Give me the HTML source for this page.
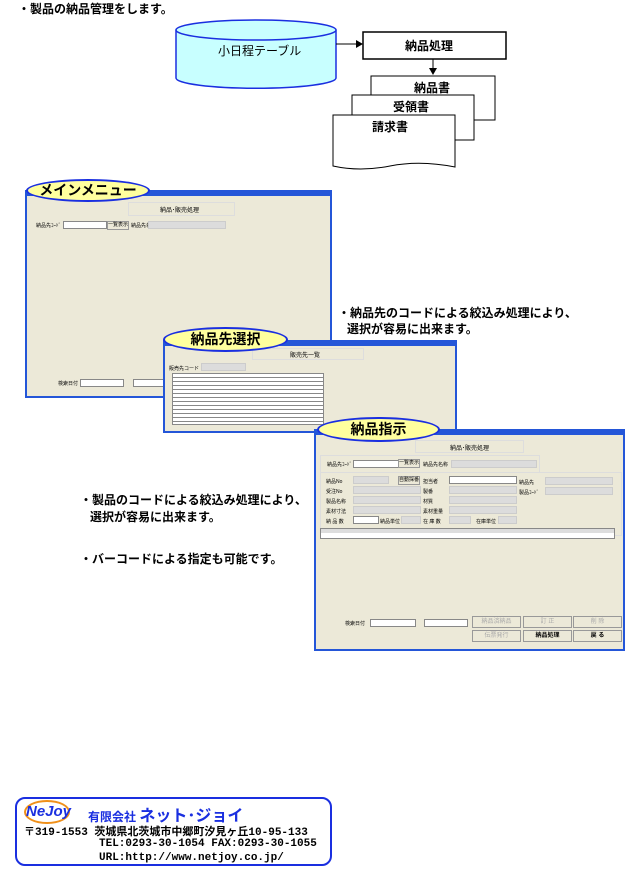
<!DOCTYPE html>
<html><head><meta charset="utf-8"><style>
body{margin:0;width:640px;height:870px;background:#fff;position:relative;overflow:hidden;font-family:"Liberation Sans","Noto Sans CJK JP",sans-serif;}
.a{position:absolute}
.t{font-size:12px;color:#000;white-space:nowrap;font-weight:bold}
.win{position:absolute;background:#ece9d8;border:2px solid #2456d8;border-top:6px solid #2456d8;box-sizing:border-box}
.lbl{position:absolute;background:#ffff9e;border:2px solid #1a2fe0;border-radius:50%;box-sizing:border-box;text-align:center;font-weight:bold;font-size:14px}
.fld{position:absolute;background:#dcdcdc;border:1px solid #ccc}
.wf{position:absolute;background:#fff;border:1px solid #888}
.s{position:absolute;font-size:5px;white-space:nowrap}
.btn{position:absolute;background:#ece9d8;border:1px solid #999;font-size:6px;text-align:center;line-height:12px}
</style></head><body>
<div class="a t" style="left:18px;top:0px;font-size:12px">・製品の納品管理をします。</div>
<svg class="a" style="left:0;top:0" width="640" height="180">
<path d="M176 30 L176 78 A78 10 0 0 0 336 78 L336 30" fill="#c8ffff" stroke="#1a2fe0" stroke-width="1.5"/>
<ellipse cx="256" cy="30" rx="80" ry="10" fill="#c8ffff" stroke="#1a2fe0" stroke-width="1.5"/>
<text x="218" y="55" font-size="12" font-family="Liberation Sans,Noto Sans CJK JP,sans-serif">小日程テーブル</text>
<line x1="336" y1="44" x2="360" y2="44" stroke="#000"/><polygon points="363,44 356,40 356,48"/>
<rect x="363" y="32" width="143" height="27" fill="#fff" stroke="#000" stroke-width="1.5"/>
<text x="405" y="50" font-size="12" font-weight="bold" font-family="Liberation Sans,Noto Sans CJK JP,sans-serif">納品処理</text>
<line x1="433" y1="59" x2="433" y2="70" stroke="#000"/><polygon points="433,75 429,68 437,68"/>
<rect x="371" y="76" width="124" height="44" fill="#fff" stroke="#000"/>
<text x="414" y="92" font-size="12" font-weight="bold" font-family="Liberation Sans,Noto Sans CJK JP,sans-serif">納品書</text>
<rect x="352" y="95" width="122" height="45" fill="#fff" stroke="#000"/>
<text x="393" y="111" font-size="12" font-weight="bold" font-family="Liberation Sans,Noto Sans CJK JP,sans-serif">受領書</text>
<path d="M333 115 L455 115 L455 167 Q420 160 390 166 Q360 172 333 166 Z" fill="#fff" stroke="#000"/>
<text x="372" y="131" font-size="12" font-weight="bold" font-family="Liberation Sans,Noto Sans CJK JP,sans-serif">請求書</text>
</svg>

<!-- main window -->
<div class="win" style="left:25px;top:190px;width:307px;height:208px"></div>
<div class="a" style="left:128px;top:202px;width:105px;height:12px;border:1px solid #ddd"></div>
<div class="s" style="left:160px;top:205px;font-size:6px">納品･販売処理</div>
<div class="s" style="left:36px;top:222px">納品先ｺｰﾄﾞ</div>
<div class="wf" style="left:63px;top:221px;width:42px;height:6px"></div>
<div class="btn" style="left:107px;top:221px;width:20px;height:7px;line-height:7px;font-size:5px">一覧表示</div>
<div class="s" style="left:131px;top:222px">納品先名称</div>
<div class="fld" style="left:148px;top:221px;width:76px;height:6px"></div>
<div class="s" style="left:58px;top:380px">検索日付</div>
<div class="wf" style="left:80px;top:379px;width:42px;height:6px"></div>
<div class="wf" style="left:133px;top:379px;width:30px;height:6px"></div>
<div class="lbl" style="left:26px;top:179px;width:124px;height:23px;line-height:19px">メインメニュー</div>

<!-- second -->
<div class="win" style="left:163px;top:340px;width:294px;height:93px"></div>
<div class="a" style="left:252px;top:348px;width:110px;height:10px;border:1px solid #ddd"></div>
<div class="s" style="left:290px;top:350px;font-size:6px">販売先一覧</div>
<div class="s" style="left:169px;top:365px">販売先コード</div>
<div class="fld" style="left:201px;top:363px;width:43px;height:6px"></div>
<div class="a" style="left:172px;top:373px;width:150px;height:50px;background:repeating-linear-gradient(#fff 0 3px,#888 3px 4px);border:1px solid #888"></div>
<div class="lbl" style="left:163px;top:327px;width:125px;height:25px;line-height:21px">納品先選択</div>

<div class="a t" style="left:338px;top:304px">・納品先のコードによる絞込み処理により、</div>
<div class="a t" style="left:347px;top:320px">選択が容易に出来ます。</div>

<!-- third -->
<div class="win" style="left:314px;top:429px;width:311px;height:222px"></div>
<div class="a" style="left:415px;top:440px;width:107px;height:11px;border:1px solid #ddd"></div>
<div class="s" style="left:450px;top:443px;font-size:6px">納品･販売処理</div>
<div class="a" style="left:320px;top:455px;width:218px;height:16px;border:1px solid #ddd"></div>
<div class="s" style="left:327px;top:461px">納品先ｺｰﾄﾞ</div>
<div class="wf" style="left:353px;top:460px;width:44px;height:6px"></div>
<div class="btn" style="left:398px;top:459px;width:20px;height:7px;line-height:7px;font-size:5px">一覧表示</div>
<div class="s" style="left:423px;top:461px">納品先名称</div>
<div class="fld" style="left:451px;top:460px;width:84px;height:6px"></div>
<div class="a" style="left:320px;top:472px;width:300px;height:62px;border:1px solid #ddd"></div>
<div class="s" style="left:326px;top:478px">納品No</div><div class="fld" style="left:353px;top:476px;width:34px;height:6px"></div>
<div class="btn" style="left:398px;top:476px;width:20px;height:7px;line-height:7px;font-size:5px">自動採番</div>
<div class="s" style="left:326px;top:488px">受注No</div><div class="fld" style="left:353px;top:486px;width:66px;height:6px"></div>
<div class="s" style="left:326px;top:498px">製品名称</div><div class="fld" style="left:353px;top:496px;width:66px;height:6px"></div>
<div class="s" style="left:326px;top:508px">素材寸法</div><div class="fld" style="left:353px;top:506px;width:66px;height:6px"></div>
<div class="s" style="left:326px;top:518px">納 品 数</div><div class="wf" style="left:353px;top:516px;width:24px;height:6px"></div>
<div class="s" style="left:380px;top:518px">納品単位</div><div class="fld" style="left:401px;top:516px;width:18px;height:6px"></div>
<div class="s" style="left:423px;top:478px">担当者</div><div class="wf" style="left:449px;top:476px;width:66px;height:6px"></div>
<div class="s" style="left:423px;top:488px">製番</div><div class="fld" style="left:449px;top:486px;width:66px;height:6px"></div>
<div class="s" style="left:423px;top:498px">材質</div><div class="fld" style="left:449px;top:496px;width:66px;height:6px"></div>
<div class="s" style="left:423px;top:508px">素材重量</div><div class="fld" style="left:449px;top:506px;width:66px;height:6px"></div>
<div class="s" style="left:423px;top:518px">在 庫 数</div><div class="fld" style="left:449px;top:516px;width:20px;height:6px"></div>
<div class="s" style="left:476px;top:518px">在庫単位</div><div class="fld" style="left:498px;top:516px;width:17px;height:6px"></div>
<div class="s" style="left:519px;top:479px">納品先</div><div class="fld" style="left:545px;top:477px;width:66px;height:6px"></div>
<div class="s" style="left:519px;top:489px">製品ｺｰﾄﾞ</div><div class="fld" style="left:545px;top:487px;width:66px;height:6px"></div>
<div class="a" style="left:320px;top:528px;width:293px;height:9px;background:linear-gradient(#ddd 0 4px,#fff 4px);border:1px solid #888"></div>
<div class="s" style="left:345px;top:620px">検索日付</div>
<div class="wf" style="left:370px;top:619px;width:44px;height:6px"></div>
<div class="wf" style="left:424px;top:619px;width:42px;height:6px"></div>
<div class="btn" style="left:472px;top:616px;width:47px;height:10px;line-height:10px;color:#aaa">納品済納品</div>
<div class="btn" style="left:523px;top:616px;width:47px;height:10px;line-height:10px;color:#aaa">訂 正</div>
<div class="btn" style="left:573px;top:616px;width:47px;height:10px;line-height:10px;color:#aaa">削 除</div>
<div class="btn" style="left:472px;top:630px;width:47px;height:10px;line-height:10px;color:#aaa">伝票発行</div>
<div class="btn" style="left:523px;top:630px;width:47px;height:10px;line-height:10px;font-weight:bold">納品処理</div>
<div class="btn" style="left:573px;top:630px;width:47px;height:10px;line-height:10px;font-weight:bold">戻 る</div>
<div class="lbl" style="left:317px;top:417px;width:123px;height:25px;line-height:21px">納品指示</div>

<div class="a t" style="left:80px;top:491px">・製品のコードによる絞込み処理により、</div>
<div class="a t" style="left:90px;top:508px">選択が容易に出来ます。</div>
<div class="a t" style="left:80px;top:550px">・バーコードによる指定も可能です。</div>

<!-- footer -->
<div class="a" style="left:15px;top:797px;width:317px;height:69px;border:2px solid #1a2fe0;border-radius:10px;box-sizing:border-box"></div>
<div class="a" style="left:24px;top:800px;width:46px;height:24px;border:2px solid #f0901a;border-radius:50%;box-sizing:border-box"></div>
<div class="a" style="left:26px;top:803px;font-size:15px;font-weight:bold;font-style:italic;color:#1a2fe0">NeJoy</div>
<div class="a" style="left:88px;top:802px;font-size:12px;font-weight:bold;color:#1a2fe0;white-space:nowrap">有限会社 <span style="font-size:16px">ネット･ジョイ</span></div>
<div class="a t" style="left:24px;top:823px;font-size:11px;font-family:'Liberation Mono','Noto Sans CJK JP',monospace">〒319-1553 茨城県北茨城市中郷町汐見ヶ丘10-95-133</div>
<div class="a t" style="left:99px;top:838px;font-size:11px;font-family:'Liberation Mono','Noto Sans CJK JP',monospace">TEL:0293-30-1054 FAX:0293-30-1055</div>
<div class="a t" style="left:99px;top:852px;font-size:11px;font-family:'Liberation Mono','Noto Sans CJK JP',monospace">URL:http://www.netjoy.co.jp/</div>
</body></html>
